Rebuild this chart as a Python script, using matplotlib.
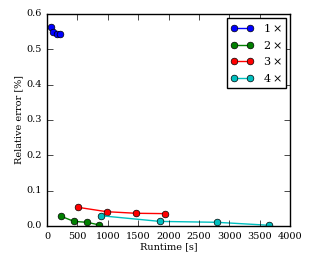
import matplotlib
matplotlib.use("Agg")
import matplotlib.pyplot as plt

plt.style.use("classic")
plt.rcParams['font.family'] = 'DejaVu Serif'
plt.rcParams['mathtext.fontset'] = 'dejavuserif'

labels = [r"$1\times$", r"$2\times$", r"$3\times$", r"$4\times$"]
colors = ["b", "g", "r", "c"]
runtime_1 = [61, 104, 160, 220]
error_1 = [0.563, 0.549, 0.543, 0.542]
runtime_2 = [225, 444, 658, 860]
error_2 = [0.028, 0.013, 0.0105, 0.003]
runtime_3 = [505, 982, 1465, 1948]
error_3 = [0.053, 0.0405, 0.036, 0.035]
runtime_4 = [894, 1860, 2793, 3660]
error_4 = [0.029, 0.013, 0.0105, 0.002]

xs = [runtime_1, runtime_2, runtime_3, runtime_4]
ys = [error_1, error_2, error_3, error_4]

fig = plt.figure(figsize=(3.12, 2.6), dpi=100)
ax = fig.add_axes([47/312, 34/260, 243/312, 212/260])
for x, y, c, l in zip(xs, ys, colors, labels):
    ax.plot(x, y, "-o", color=c, label=l, markersize=4.8)
ax.set_xlim(0, 4000)
ax.set_ylim(0, 0.6)
ax.set_xticks([0, 500, 1000, 1500, 2000, 2500, 3000, 3500, 4000])
ax.set_yticks([0.0, 0.1, 0.2, 0.3, 0.4, 0.5, 0.6])
ax.tick_params(labelsize=7)
ax.set_xlabel("Runtime [s]", fontsize=7, labelpad=1)
ax.set_ylabel("Relative error [%]", fontsize=7, labelpad=2)
ax.legend(loc="upper right", fontsize=8, numpoints=2, handlelength=2.05,
          borderaxespad=0.35, labelspacing=0.4)
fig.savefig("out.png", dpi=100)
